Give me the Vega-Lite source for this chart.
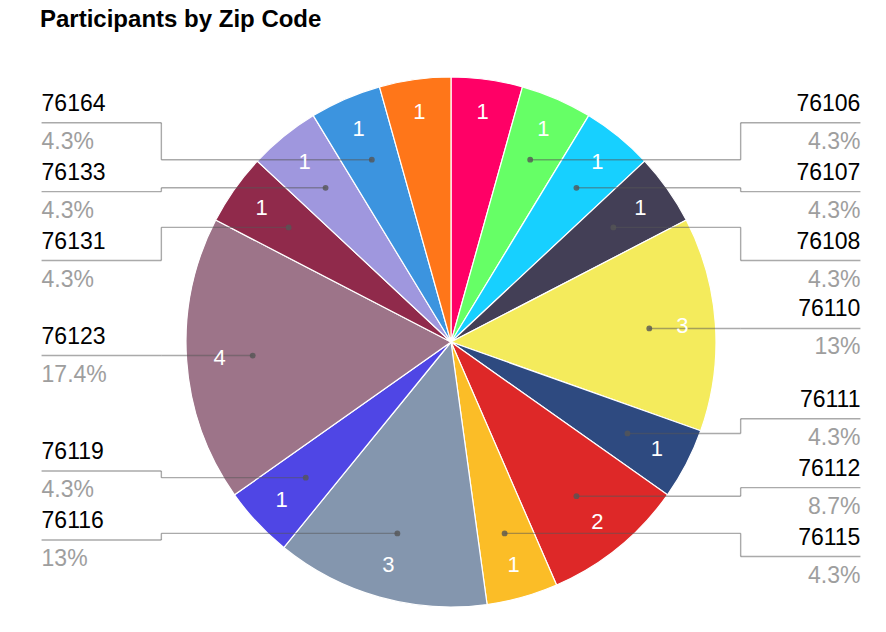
{
  "$schema": "https://vega.github.io/schema/vega-lite/v6.json",
  "width": 870,
  "height": 580,
  "autosize": {"type": "none"},
  "padding": {"left": 16, "top": 52, "right": 0, "bottom": 0},
  "background": "white",
  "title": {
    "text": "Participants by Zip Code",
    "anchor": "start",
    "frame": "group",
    "font": "Liberation Sans",
    "fontSize": 24,
    "fontWeight": "bold",
    "color": "#000000",
    "baseline": "alphabetic",
    "offset": 1,
    "dx": 24
  },
  "config": {"view": {"stroke": null}},
  "data": {
    "values": [
      {"zip": "76104", "participants": 1},
      {"zip": "76106", "participants": 1},
      {"zip": "76107", "participants": 1},
      {"zip": "76108", "participants": 1},
      {"zip": "76110", "participants": 3},
      {"zip": "76111", "participants": 1},
      {"zip": "76112", "participants": 2},
      {"zip": "76115", "participants": 1},
      {"zip": "76116", "participants": 3},
      {"zip": "76119", "participants": 1},
      {"zip": "76123", "participants": 4},
      {"zip": "76131", "participants": 1},
      {"zip": "76133", "participants": 1},
      {"zip": "76164", "participants": 1},
      {"zip": "76177", "participants": 1}
    ]
  },
  "transform": [
    {"window": [{"op": "sum", "field": "participants", "as": "cum"}], "sort": [{"field": "zip", "order": "ascending"}]},
    {"joinaggregate": [{"op": "sum", "field": "participants", "as": "total"}]},
    {"calculate": "2*PI*(datum.cum - datum.participants/2)/datum.total", "as": "mid"},
    {"calculate": "sin(datum.mid)", "as": "sx"},
    {"calculate": "cos(datum.mid)", "as": "cy"},
    {"calculate": "datum.sx < 0 ? 'left' : 'right'", "as": "side"},
    {"calculate": "0.75*datum.sx", "as": "dotX"},
    {"calculate": "0.75*datum.cy", "as": "dotY"},
    {"calculate": "0.875*datum.sx", "as": "valX"},
    {"calculate": "0.875*datum.cy", "as": "valY"},
    {"calculate": "datum.participants/datum.total", "as": "pct"}
  ],
  "layer": [
    {
      "mark": {"type": "arc", "outerRadius": 265, "stroke": "white", "strokeWidth": 1.2},
      "encoding": {
        "theta": {"field": "participants", "type": "quantitative", "stack": true},
        "color": {
          "field": "zip",
          "type": "nominal",
          "legend": null,
          "scale": {
            "domain": ["76104", "76106", "76107", "76108", "76110", "76111", "76112", "76115", "76116", "76119", "76123", "76131", "76133", "76164", "76177"],
            "range": ["#FF0066", "#66FF66", "#17D0FF", "#433F56", "#F4EB5C", "#2E4A80", "#DE2828", "#FBBD27", "#8496AE", "#4F46E5", "#9D7489", "#902A4B", "#9F97DE", "#3C94DF", "#FF7619"]
          }
        },
        "order": {"field": "zip", "type": "nominal", "sort": "ascending"}
      }
    },
    {
      "transform": [
        {"filter": "datum.zip != '76104' && datum.zip != '76177'"},
        {"window": [{"op": "lag", "field": "dotY", "as": "prevY"}], "groupby": ["side"], "sort": [{"field": "dotY", "order": "descending"}]},
        {"calculate": "(datum.prevY == null || datum.prevY - datum.dotY >= 0.26) ? 1 : 0", "as": "newc"},
        {"window": [{"op": "sum", "field": "newc", "as": "cluster"}], "groupby": ["side"], "sort": [{"field": "dotY", "order": "descending"}]},
        {"joinaggregate": [{"op": "mean", "field": "dotY", "as": "cmean"}, {"op": "count", "as": "cn"}], "groupby": ["side", "cluster"]},
        {"window": [{"op": "row_number", "as": "ci"}], "groupby": ["side", "cluster"], "sort": [{"field": "dotY", "order": "descending"}]},
        {"calculate": "datum.cmean - (datum.ci - 1 - (datum.cn - 1)/2)*0.26", "as": "labelY"},
        {"calculate": "datum.side == 'left' ? -1.093 : 1.093", "as": "elbowX"},
        {"calculate": "datum.side == 'left' ? -1.545 : 1.545", "as": "endX"}
      ],
      "layer": [
        {
          "mark": {"type": "rule", "color": "#555555", "opacity": 0.5, "strokeWidth": 1.4},
          "encoding": {
            "x": {"field": "dotX", "type": "quantitative", "scale": {"domain": [-1.6415, 1.6415], "nice": false, "zero": false}, "axis": null},
            "x2": {"field": "elbowX"},
            "y": {"field": "dotY", "type": "quantitative", "scale": {"domain": [-1.0943, 1.0943], "nice": false, "zero": false}, "axis": null}
          }
        },
        {
          "mark": {"type": "rule", "color": "#555555", "opacity": 0.5, "strokeWidth": 1.4},
          "encoding": {
            "x": {"field": "elbowX", "type": "quantitative"},
            "y": {"field": "dotY", "type": "quantitative"},
            "y2": {"field": "labelY"}
          }
        },
        {
          "mark": {"type": "rule", "color": "#555555", "opacity": 0.5, "strokeWidth": 1.4},
          "encoding": {
            "x": {"field": "elbowX", "type": "quantitative"},
            "x2": {"field": "endX"},
            "y": {"field": "labelY", "type": "quantitative"}
          }
        },
        {
          "mark": {"type": "circle", "color": "#555555", "opacity": 0.8, "size": 34},
          "encoding": {
            "x": {"field": "dotX", "type": "quantitative"},
            "y": {"field": "dotY", "type": "quantitative"}
          }
        },
        {
          "transform": [{"filter": "datum.side == 'left'"}],
          "mark": {"type": "text", "align": "left", "baseline": "alphabetic", "dy": -12, "font": "Liberation Sans", "fontSize": 23, "color": "#000000"},
          "encoding": {
            "x": {"field": "endX", "type": "quantitative"},
            "y": {"field": "labelY", "type": "quantitative"},
            "text": {"field": "zip", "type": "nominal"}
          }
        },
        {
          "transform": [{"filter": "datum.side == 'right'"}],
          "mark": {"type": "text", "align": "right", "baseline": "alphabetic", "dy": -12, "font": "Liberation Sans", "fontSize": 23, "color": "#000000"},
          "encoding": {
            "x": {"field": "endX", "type": "quantitative"},
            "y": {"field": "labelY", "type": "quantitative"},
            "text": {"field": "zip", "type": "nominal"}
          }
        },
        {
          "transform": [{"filter": "datum.side == 'left'"}],
          "mark": {"type": "text", "align": "left", "baseline": "alphabetic", "dy": 26, "font": "Liberation Sans", "fontSize": 23, "color": "#9E9E9E"},
          "encoding": {
            "x": {"field": "endX", "type": "quantitative"},
            "y": {"field": "labelY", "type": "quantitative"},
            "text": {"field": "pct", "type": "quantitative", "format": ".1~%"}
          }
        },
        {
          "transform": [{"filter": "datum.side == 'right'"}],
          "mark": {"type": "text", "align": "right", "baseline": "alphabetic", "dy": 26, "font": "Liberation Sans", "fontSize": 23, "color": "#9E9E9E"},
          "encoding": {
            "x": {"field": "endX", "type": "quantitative"},
            "y": {"field": "labelY", "type": "quantitative"},
            "text": {"field": "pct", "type": "quantitative", "format": ".1~%"}
          }
        }
      ]
    },
    {
      "mark": {"type": "text", "align": "center", "baseline": "middle", "font": "Liberation Sans", "fontSize": 22, "color": "white"},
      "encoding": {
        "x": {"field": "valX", "type": "quantitative"},
        "y": {"field": "valY", "type": "quantitative"},
        "text": {"field": "participants", "type": "quantitative"}
      }
    }
  ]
}
